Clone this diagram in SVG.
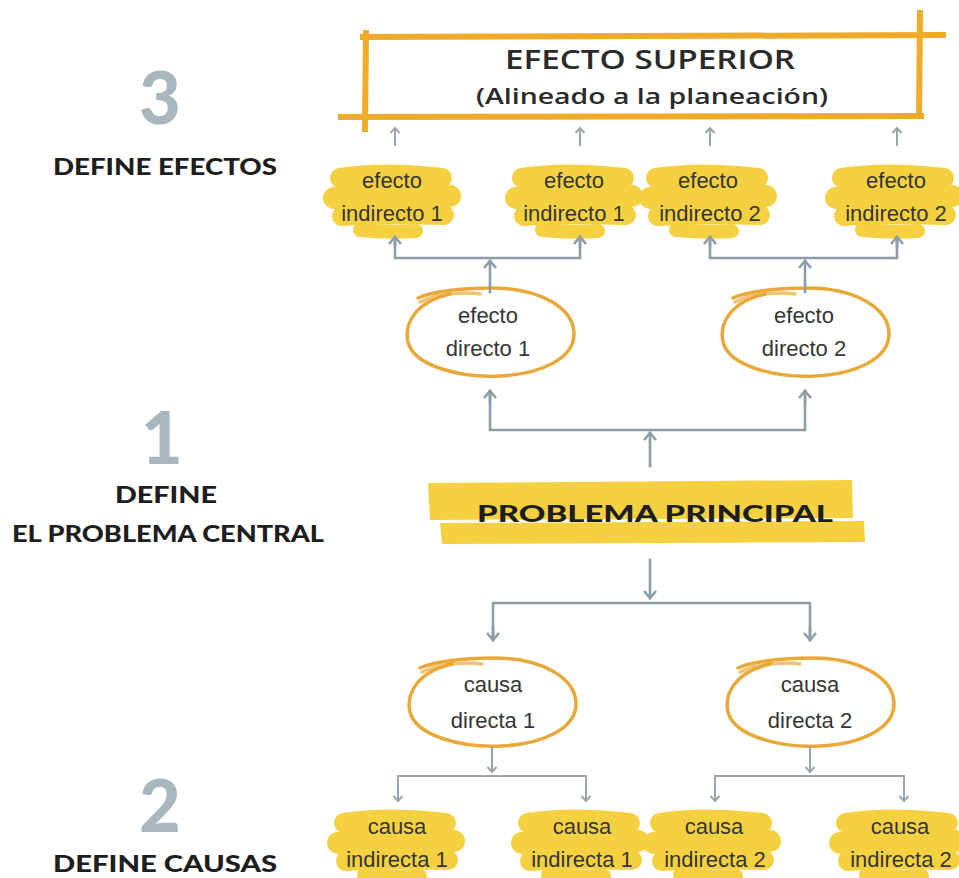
<svg xmlns="http://www.w3.org/2000/svg" xmlns:xlink="http://www.w3.org/1999/xlink" width="959" height="878" viewBox="0 0 959 878">
  <style>
    .node-text { font-family: "Liberation Sans", Arial, sans-serif; font-size: 22px; fill: #363636; text-anchor: middle; }
    .step-num { font-family: Lato, "DejaVu Sans", sans-serif; font-weight: 900; font-size: 72px; fill: #a8b6be; text-anchor: middle; }
    .step-label { font-family: Lato, "DejaVu Sans", sans-serif; font-weight: 900; font-size: 23px; fill: #1e1e1e; text-anchor: middle; }
    .title { font-family: "Open Sans", "Noto Sans", sans-serif; font-weight: 600; fill: #2a2a2a; text-anchor: middle; }
    .conn { fill: none; stroke: #8e9ca6; stroke-width: 2.6; stroke-linecap: square; }
    .conn-thin { fill: none; stroke: #9aa6ae; stroke-width: 2; }
    .ring { fill: none; stroke: #e8a93a; stroke-width: 3.5; stroke-linecap: round; }
    .brush { fill: none; stroke: #f5d142; stroke-linecap: round; }
    .band { fill: #f5d142; }
    .frame { fill: none; stroke: #eeac28; stroke-width: 6; stroke-linecap: butt; }
  </style>
  <defs>
    <marker id="head" markerUnits="userSpaceOnUse" markerWidth="20" markerHeight="20" refX="0" refY="0" viewBox="-10 -10 20 20" orient="auto">
      <path d="M-7,-6 L0,0 L-7,6" fill="none" stroke="#8e9ca6" stroke-width="2.6" stroke-linejoin="miter"/>
    </marker>
    <marker id="head-small" markerUnits="userSpaceOnUse" markerWidth="16" markerHeight="16" refX="0" refY="0" viewBox="-8 -8 16 16" orient="auto">
      <path d="M-5,-4.5 L0,0 L-5,4.5" fill="none" stroke="#9aa6ae" stroke-width="2"/>
    </marker>
    <!-- yellow marker-pen patch behind the small nodes -->
    <g id="patch">
      <path class="brush" stroke-width="20" d="M-52,-22 C-20,-27 20,-26 50,-22"/>
      <path class="brush" stroke-width="22" d="M-58,-2 C-20,-6 25,-6 58,-4"/>
      <path class="brush" stroke-width="20" d="M-50,16 C-15,13 20,14 52,15"/>
      <path class="brush" stroke-width="14" d="M-32,30 C-10,32 10,32 24,31"/>
    </g>
    <!-- hand-drawn ring -->
    <g id="ring">
      <path class="ring" d="M-40,-38 C-75,-30 -86,-8 -82,10 C-76,34 -30,46 10,44 C52,42 84,26 84,2 C84,-24 50,-44 2,-44 C-30,-44 -60,-40 -72,-34"/>
      <path class="ring" stroke-width="2" opacity="0.7" d="M-70,-30 C-50,-40 -20,-40 -10,-38"/>
    </g>
  </defs>

  <rect width="959" height="878" fill="#ffffff"/>

  <!-- step labels -->
  <g id="step-3">
    <text class="step-num" x="160" y="124">3</text>
    <text class="step-label" x="165" y="175" textLength="224" lengthAdjust="spacingAndGlyphs">DEFINE EFECTOS</text>
  </g>
  <g id="step-1">
    <text class="step-num" x="162" y="464">1</text>
    <text class="step-label" x="166" y="503" textLength="102" lengthAdjust="spacingAndGlyphs">DEFINE</text>
    <text class="step-label" x="168" y="542" textLength="312" lengthAdjust="spacingAndGlyphs">EL PROBLEMA CENTRAL</text>
  </g>
  <g id="step-2">
    <text class="step-num" x="160" y="832">2</text>
    <text class="step-label" x="165" y="872" textLength="224" lengthAdjust="spacingAndGlyphs">DEFINE CAUSAS</text>
  </g>

  <!-- top frame -->
  <g id="efecto-superior">
    <path class="frame" d="M360,37 L946,35"/>
    <path class="frame" d="M338,117 L924,116"/>
    <path class="frame" d="M366,30 L365,132"/>
    <path class="frame" d="M920,10 L919,118"/>
    <text class="title" x="650" y="69" font-size="27" textLength="290" lengthAdjust="spacingAndGlyphs">EFECTO SUPERIOR</text>
    <text class="title" x="652" y="104" font-size="22" textLength="352" lengthAdjust="spacingAndGlyphs">(Alineado a la planeación)</text>
  </g>

  <!-- indirect effects -->
  <g id="efecto-indirecto-1a">
    <use xlink:href="#patch" x="392" y="200"/>
    <text class="node-text" x="392" y="188">efecto</text>
    <text class="node-text" x="392" y="221">indirecto 1</text>
  </g>
  <g id="efecto-indirecto-1b">
    <use xlink:href="#patch" x="574" y="200"/>
    <text class="node-text" x="574" y="188">efecto</text>
    <text class="node-text" x="574" y="221">indirecto 1</text>
  </g>
  <g id="efecto-indirecto-2a">
    <use xlink:href="#patch" x="708" y="200"/>
    <text class="node-text" x="708" y="188">efecto</text>
    <text class="node-text" x="710" y="221">indirecto 2</text>
  </g>
  <g id="efecto-indirecto-2b">
    <use xlink:href="#patch" x="894" y="200"/>
    <text class="node-text" x="896" y="188">efecto</text>
    <text class="node-text" x="896" y="221">indirecto 2</text>
  </g>

  <!-- direct effects -->
  <g id="efecto-directo-1">
    <use xlink:href="#ring" x="490" y="332"/>
    <text class="node-text" x="488" y="323">efecto</text>
    <text class="node-text" x="488" y="356">directo 1</text>
  </g>
  <g id="efecto-directo-2">
    <use xlink:href="#ring" x="805" y="332"/>
    <text class="node-text" x="804" y="323">efecto</text>
    <text class="node-text" x="804" y="356">directo 2</text>
  </g>

  <!-- main problem -->
  <g id="problema-principal">
    <path class="band" d="M428,483 L852,480 L853,518 L430,520 Z"/>
    <path class="band" d="M440,523 L864,521 L865,542 L442,544 Z"/>
    <text class="step-label" x="655" y="522" font-size="30" textLength="356" lengthAdjust="spacingAndGlyphs">PROBLEMA PRINCIPAL</text>
  </g>

  <!-- direct causes -->
  <g id="causa-directa-1">
    <use xlink:href="#ring" x="492" y="702"/>
    <text class="node-text" x="493" y="692">causa</text>
    <text class="node-text" x="493" y="728">directa 1</text>
  </g>
  <g id="causa-directa-2">
    <use xlink:href="#ring" x="810" y="702"/>
    <text class="node-text" x="810" y="692">causa</text>
    <text class="node-text" x="810" y="728">directa 2</text>
  </g>

  <!-- indirect causes -->
  <g id="causa-indirecta-1a">
    <use xlink:href="#patch" x="396" y="845"/>
    <text class="node-text" x="397" y="834">causa</text>
    <text class="node-text" x="397" y="867">indirecta 1</text>
  </g>
  <g id="causa-indirecta-1b">
    <use xlink:href="#patch" x="580" y="845"/>
    <text class="node-text" x="582" y="834">causa</text>
    <text class="node-text" x="582" y="867">indirecta 1</text>
  </g>
  <g id="causa-indirecta-2a">
    <use xlink:href="#patch" x="712" y="845"/>
    <text class="node-text" x="714" y="834">causa</text>
    <text class="node-text" x="715" y="867">indirecta 2</text>
  </g>
  <g id="causa-indirecta-2b">
    <use xlink:href="#patch" x="898" y="845"/>
    <text class="node-text" x="900" y="834">causa</text>
    <text class="node-text" x="901" y="867">indirecta 2</text>
  </g>

  <!-- connectors -->
  <g id="connectors">
    <!-- indirect effects up to the top frame -->
    <path class="conn-thin" marker-end="url(#head-small)" d="M395,146 L395,128"/>
    <path class="conn-thin" marker-end="url(#head-small)" d="M580,146 L580,128"/>
    <path class="conn-thin" marker-end="url(#head-small)" d="M710,146 L710,128"/>
    <path class="conn-thin" marker-end="url(#head-small)" d="M897,146 L897,128"/>

    <!-- direct effect 1 to its indirect effects -->
    <path class="conn" d="M395,238 L395,258 L580,258 L580,238"/>
    <path class="conn" marker-end="url(#head)" d="M395,246 L395,237"/>
    <path class="conn" marker-end="url(#head)" d="M580,246 L580,237"/>
    <path class="conn" marker-end="url(#head)" d="M490,292 L490,261"/>

    <!-- direct effect 2 to its indirect effects -->
    <path class="conn" d="M710,238 L710,258 L897,258 L897,238"/>
    <path class="conn" marker-end="url(#head)" d="M710,246 L710,237"/>
    <path class="conn" marker-end="url(#head)" d="M897,246 L897,237"/>
    <path class="conn" marker-end="url(#head)" d="M805,292 L805,261"/>

    <!-- main problem up to the direct effects -->
    <path class="conn" d="M490,392 L490,430 L805,430 L805,392"/>
    <path class="conn" marker-end="url(#head)" d="M490,402 L490,391"/>
    <path class="conn" marker-end="url(#head)" d="M805,402 L805,391"/>
    <path class="conn" marker-end="url(#head)" d="M650,466 L650,433"/>

    <!-- main problem down to the direct causes -->
    <path class="conn" marker-end="url(#head)" d="M650,560 L650,598"/>
    <path class="conn" d="M493,638 L493,603 L810,603 L810,638"/>
    <path class="conn" marker-end="url(#head)" d="M493,628 L493,640"/>
    <path class="conn" marker-end="url(#head)" d="M810,628 L810,640"/>

    <!-- direct causes down to the indirect causes -->
    <path class="conn-thin" marker-end="url(#head-small)" d="M492,746 L492,772"/>
    <path class="conn-thin" d="M398,800 L398,776 L586,776 L586,800"/>
    <path class="conn-thin" marker-end="url(#head-small)" d="M398,790 L398,801"/>
    <path class="conn-thin" marker-end="url(#head-small)" d="M586,790 L586,801"/>

    <path class="conn-thin" marker-end="url(#head-small)" d="M810,746 L810,772"/>
    <path class="conn-thin" d="M715,800 L715,776 L904,776 L904,800"/>
    <path class="conn-thin" marker-end="url(#head-small)" d="M715,790 L715,801"/>
    <path class="conn-thin" marker-end="url(#head-small)" d="M904,790 L904,801"/>
  </g>
</svg>
